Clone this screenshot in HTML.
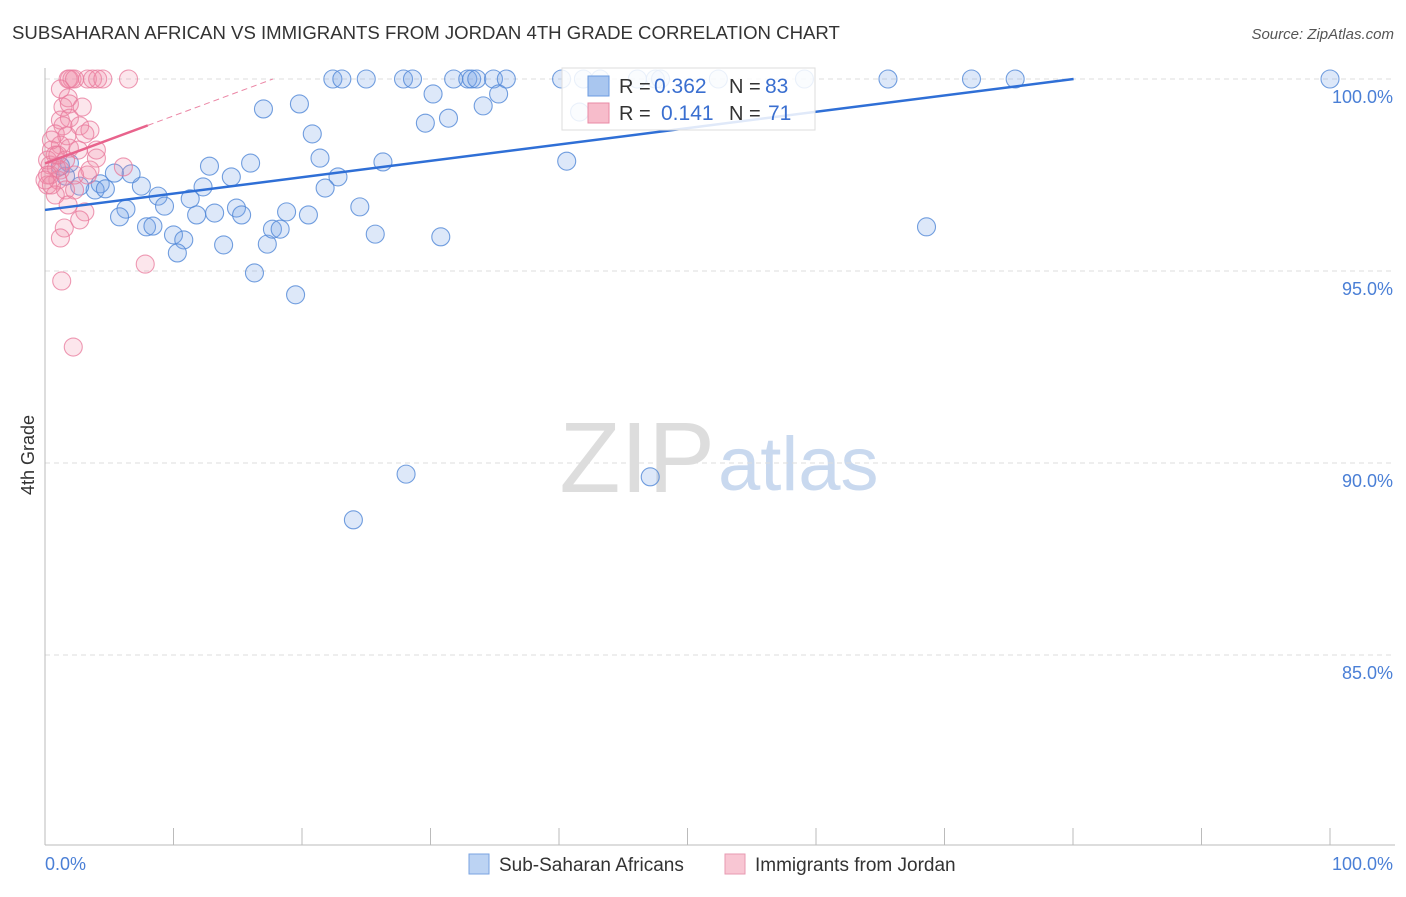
<!DOCTYPE html>
<html><head><meta charset="utf-8"><style>
body{margin:0;background:#fff;font-family:"Liberation Sans",sans-serif;}
svg text{font-family:"Liberation Sans",sans-serif;}
</style></head><body>
<svg id="chart" width="1406" height="892" xmlns="http://www.w3.org/2000/svg">
<text x="12" y="39" font-size="18.6" fill="#333">SUBSAHARAN AFRICAN VS IMMIGRANTS FROM JORDAN 4TH GRADE CORRELATION CHART</text>
<text x="1394" y="39" font-size="15" fill="#555" text-anchor="end" font-style="italic">Source: ZipAtlas.com</text>
<g>
<text x="715" y="492" font-size="100" fill="#ddd" text-anchor="end" font-family="Liberation Serif">ZIP</text>
<text x="718" y="490" font-size="76" fill="#c9d9ef">atlas</text>
</g>
<g id="grid"></g>
<g id="axes"></g>
<g id="points"></g>
<g id="trends"></g>
<text transform="translate(34,455) rotate(-90)" font-size="18" fill="#333" text-anchor="middle">4th Grade</text>
<g>
<rect x="562" y="68" width="253" height="62" fill="#fff" fill-opacity="0.85" stroke="#ddd"/>
<rect x="588" y="76" width="21" height="20" fill="#a9c6ef" stroke="#6b9be0"/>
<text x="619" y="93" font-size="20" fill="#333">R = </text><text x="654" y="93" font-size="21" fill="#3a6fd0">0.362</text>
<text x="729" y="93" font-size="20" fill="#333">N = </text><text x="765" y="93" font-size="21" fill="#3a6fd0">83</text>
<rect x="588" y="103" width="21" height="20" fill="#f7bccb" stroke="#e88aa6"/>
<text x="619" y="120" font-size="20" fill="#333">R = </text><text x="661" y="120" font-size="21" fill="#3a6fd0">0.141</text>
<text x="729" y="120" font-size="20" fill="#333">N = </text><text x="768" y="120" font-size="21" fill="#3a6fd0">71</text>
</g>
<g>
<rect x="469" y="854" width="20" height="20" fill="#bcd3f3" stroke="#7aa3e2"/>
<text x="499" y="871" font-size="19" fill="#333">Sub-Saharan Africans</text>
<rect x="725" y="854" width="20" height="20" fill="#f8c6d3" stroke="#e79ab1"/>
<text x="755" y="871" font-size="19" fill="#333">Immigrants from Jordan</text>
</g>
</svg>
<script>
const yTicks=[100,95,90,85];
const yTickLabels=["100.0%","95.0%","90.0%","85.0%"];
const blueX=[22.4,23.1,25.0,27.9,28.6,31.8,32.9,33.2,33.6,34.9,35.9,40.2,41.9,43.2,46.1,47.5,47.9,52.4,59.1,65.6,72.1,75.5,100,
17.0,19.8,30.2,35.3,34.1,29.6,31.4,20.8,21.4,26.3,40.6,22.8,21.8,16.0,12.8,14.5,12.3,7.5,6.7,5.4,4.3,3.9,4.7,2.7,1.6,1.9,1.2,
8.8,9.3,11.3,6.3,5.8,7.9,8.4,10.0,10.8,10.3,11.8,13.2,14.9,15.3,13.9,16.3,17.3,17.7,18.3,18.8,20.5,19.5,24.5,25.7,30.8,68.6,28.1,47.1,24.0,41.6];
const blueY=[100,100,100,100,100,100,100,100,100,100,100,100,100,100,100,100,100,100,100,100,100,100,100,
99.22,99.35,99.61,99.61,99.30,98.85,98.98,98.57,97.94,97.84,97.86,97.45,97.16,97.81,97.73,97.45,97.19,97.21,97.53,97.55,97.27,97.11,97.14,97.21,97.47,97.81,97.73,
96.95,96.69,96.88,96.61,96.41,96.15,96.17,95.94,95.81,95.47,96.46,96.51,96.64,96.46,95.68,94.95,95.70,96.09,96.09,96.54,96.46,94.38,96.67,95.96,95.89,96.15,89.71,89.64,88.52,99.14];
const pinkX=[1.9,2.1,3.3,3.7,4.1,4.5,6.5,1.8,2.3,
1.2,1.8,1.4,1.9,2.9,1.2,1.9,1.4,2.7,0.8,1.7,3.5,3.1,1.2,1.9,0.8,1.6,0.4,1.2,0.4,1.0,0.2,1.6,2.3,0.8,1.8,3.1,1.5,1.2,2.7,4.0,4.0,6.1,3.5,7.8,1.3,2.2,
0.5,0.5,0.2,0.9,0.2,0.5,0,2.3,3.3,2.6,1.0];
const pinkY=[100,100,100,100,100,100,100,100,100,
99.74,99.51,99.27,99.35,99.27,98.93,98.98,98.78,98.78,98.57,98.52,98.67,98.57,98.28,98.20,98.02,97.89,97.76,97.63,97.50,97.37,97.24,97.11,97.11,96.98,96.72,96.54,96.12,95.86,96.33,97.94,98.15,97.71,97.63,95.18,94.74,93.02,
98.15,98.41,97.89,97.68,97.5,97.24,97.37,97.5,97.5,98.15,98.02];
const blueTrend=[96.59,100.85];
const pinkTrend=[97.8,110.2];
const NS="http://www.w3.org/2000/svg";
const X=v=>45+v*12.85;
const Y=v=>79+(100-v)*38.4;
function mk(tag,attrs,parent){const e=document.createElementNS(NS,tag);for(const k in attrs)e.setAttribute(k,attrs[k]);document.getElementById(parent).appendChild(e);return e;}
yTicks.forEach((t,i)=>{
  const l=mk('line',{x1:45,x2:1395,y1:Y(t),y2:Y(t),stroke:'#ddd','stroke-dasharray':'5,4'},'grid');
  
  
  const tx=mk('text',{x:1393,y:Y(t)+24,'font-size':18,fill:'#4a7fd6','text-anchor':'end'},'grid');
  tx.textContent=yTickLabels[i];
  
  
});
const ax=mk('line',{x1:45,x2:45,y1:68,y2:845,stroke:'#bbb'},'axes');


const bx=mk('line',{x1:45,x2:1395,y1:845,y2:845,stroke:'#bbb'},'axes');


for(let i=0;i<=10;i++){
  const tk=mk('line',{x1:X(i*10),x2:X(i*10),y1:828,y2:845,stroke:'#bbb'},'axes');
  
  
}
const xl0=mk('text',{x:45,y:870,'font-size':18,fill:'#4a7fd6'},'axes');xl0.textContent='0.0%';


const xl1=mk('text',{x:1393,y:870,'font-size':18,fill:'#4a7fd6','text-anchor':'end'},'axes');xl1.textContent='100.0%';


blueX.forEach((x,i)=>{
  const c=mk('circle',{cx:X(x),cy:Y(blueY[i]),r:9,fill:'rgba(120,165,230,0.25)',stroke:'rgba(80,135,215,0.8)','stroke-width':1.1},'points');
  
  
});
pinkX.forEach((x,i)=>{
  const c=mk('circle',{cx:X(x),cy:Y(pinkY[i]),r:9,fill:'rgba(242,140,170,0.22)',stroke:'rgba(232,120,155,0.75)','stroke-width':1.1},'points');
  
  
});
const bxEnd=(100-blueTrend[0])/(blueTrend[1]-blueTrend[0])*100;
const bt=mk('line',{x1:X(0),y1:Y(blueTrend[0]),x2:X(bxEnd),y2:Y(100),stroke:'#2f6fd6','stroke-width':2.5},'trends');


const pv=x=>pinkTrend[0]+(pinkTrend[1]-pinkTrend[0])*x/100;
const pEnd=(100-pinkTrend[0])/(pinkTrend[1]-pinkTrend[0])*100;
const pt=mk('line',{x1:X(0),y1:Y(pv(0)),x2:X(8),y2:Y(pv(8)),stroke:'#e8638c','stroke-width':2.5},'trends');


const pd=mk('line',{x1:X(8),y1:Y(pv(8)),x2:X(pEnd),y2:Y(100),stroke:'#eb86a5','stroke-width':1,'stroke-dasharray':'6,4'},'trends');


</script>
</body></html>
